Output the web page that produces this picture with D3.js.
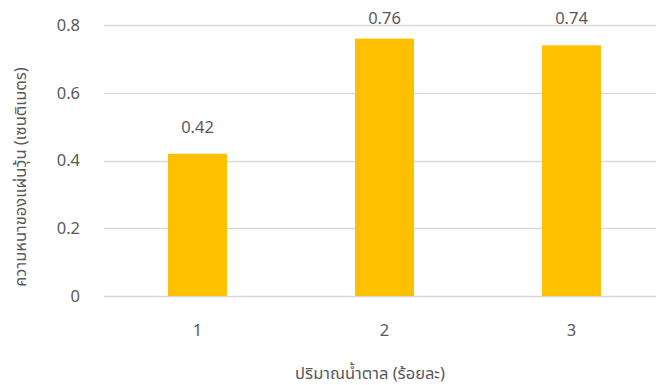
<!DOCTYPE html>
<head>
  <meta charset="utf-8">
  <script src="https://d3js.org/d3.v7.min.js"></script>
  <style>
    body { margin:0; background:#fff; }
    text { font-family: "Noto Sans Thai", "Noto Sans", "DejaVu Sans", sans-serif; fill:#595959; }
  </style>
</head>
<body>
<script>
// data
var categories = ["1", "2", "3"];
var values = [0.42, 0.76, 0.74];
var yTicks = [0, 0.2, 0.4, 0.6, 0.8];
var xTitle = "ปริมาณน้ำตาล (ร้อยละ)";
var yTitle = "ความหนาของแผ่นวุ้น (เซนติเมตร)";

var W = 656, H = 385;
var svg = d3.select("body").append("svg")
  .attr("width", W).attr("height", H);

var x = d3.scaleBand()
  .domain(categories)
  .range([104, 665])
  .paddingInner(0.685)
  .paddingOuter(0.3425);

var y = d3.scaleLinear()
  .domain([0, 0.8])
  .range([296, 25]);

// gridlines
svg.selectAll(".grid")
  .data(yTicks)
  .enter().append("line")
  .attr("x1", 104).attr("x2", W)
  .attr("y1", function(d){ return Math.round(y(d)) + 0.5; })
  .attr("y2", function(d){ return Math.round(y(d)) + 0.5; })
  .style("stroke", "#d9d9d9")
  .style("stroke-width", 1.3);

// y tick labels
svg.selectAll(".ytick")
  .data(yTicks)
  .enter().append("text")
  .attr("x", 80)
  .attr("y", function(d){ return y(d); })
  .attr("dy", "0.35em")
  .attr("text-anchor", "end")
  .style("font-size", "16.5px")
  .text(function(d){ return d === 0 ? "0" : d3.format(".1f")(d); });

// bars
svg.selectAll(".bar")
  .data(values)
  .enter().append("rect")
  .attr("x", function(d, i){ return x(categories[i]); })
  .attr("width", x.bandwidth())
  .attr("y", function(d){ return y(d); })
  .attr("height", function(d){ return y(0) - y(d); })
  .style("fill", "#ffc000");

// value labels (kept inside the chart area like Excel does)
svg.selectAll(".val")
  .data(values)
  .enter().append("text")
  .attr("x", function(d, i){ return x(categories[i]) + x.bandwidth()/2; })
  .attr("y", function(d){ return Math.max(y(d) - 27, 18); })
  .attr("dy", "0.35em")
  .attr("text-anchor", "middle")
  .style("font-size", "16.5px")
  .text(function(d){ return d; });

// category labels
svg.selectAll(".xtick")
  .data(categories)
  .enter().append("text")
  .attr("x", function(d){ return x(d) + x.bandwidth()/2; })
  .attr("y", 330)
  .attr("dy", "0.35em")
  .attr("text-anchor", "middle")
  .style("font-size", "16.5px")
  .text(function(d){ return d; });

// axis titles
svg.append("text")
  .attr("x", 370).attr("y", 373)
  .attr("dy", "0.35em")
  .attr("text-anchor", "middle")
  .style("font-size", "16.5px")
  .text(xTitle);

svg.append("text")
  .attr("transform", "translate(20,177) rotate(-90)")
  .attr("dy", "0.35em")
  .attr("text-anchor", "middle")
  .style("font-size", "16.5px")
  .text(yTitle);
</script>
</body>
